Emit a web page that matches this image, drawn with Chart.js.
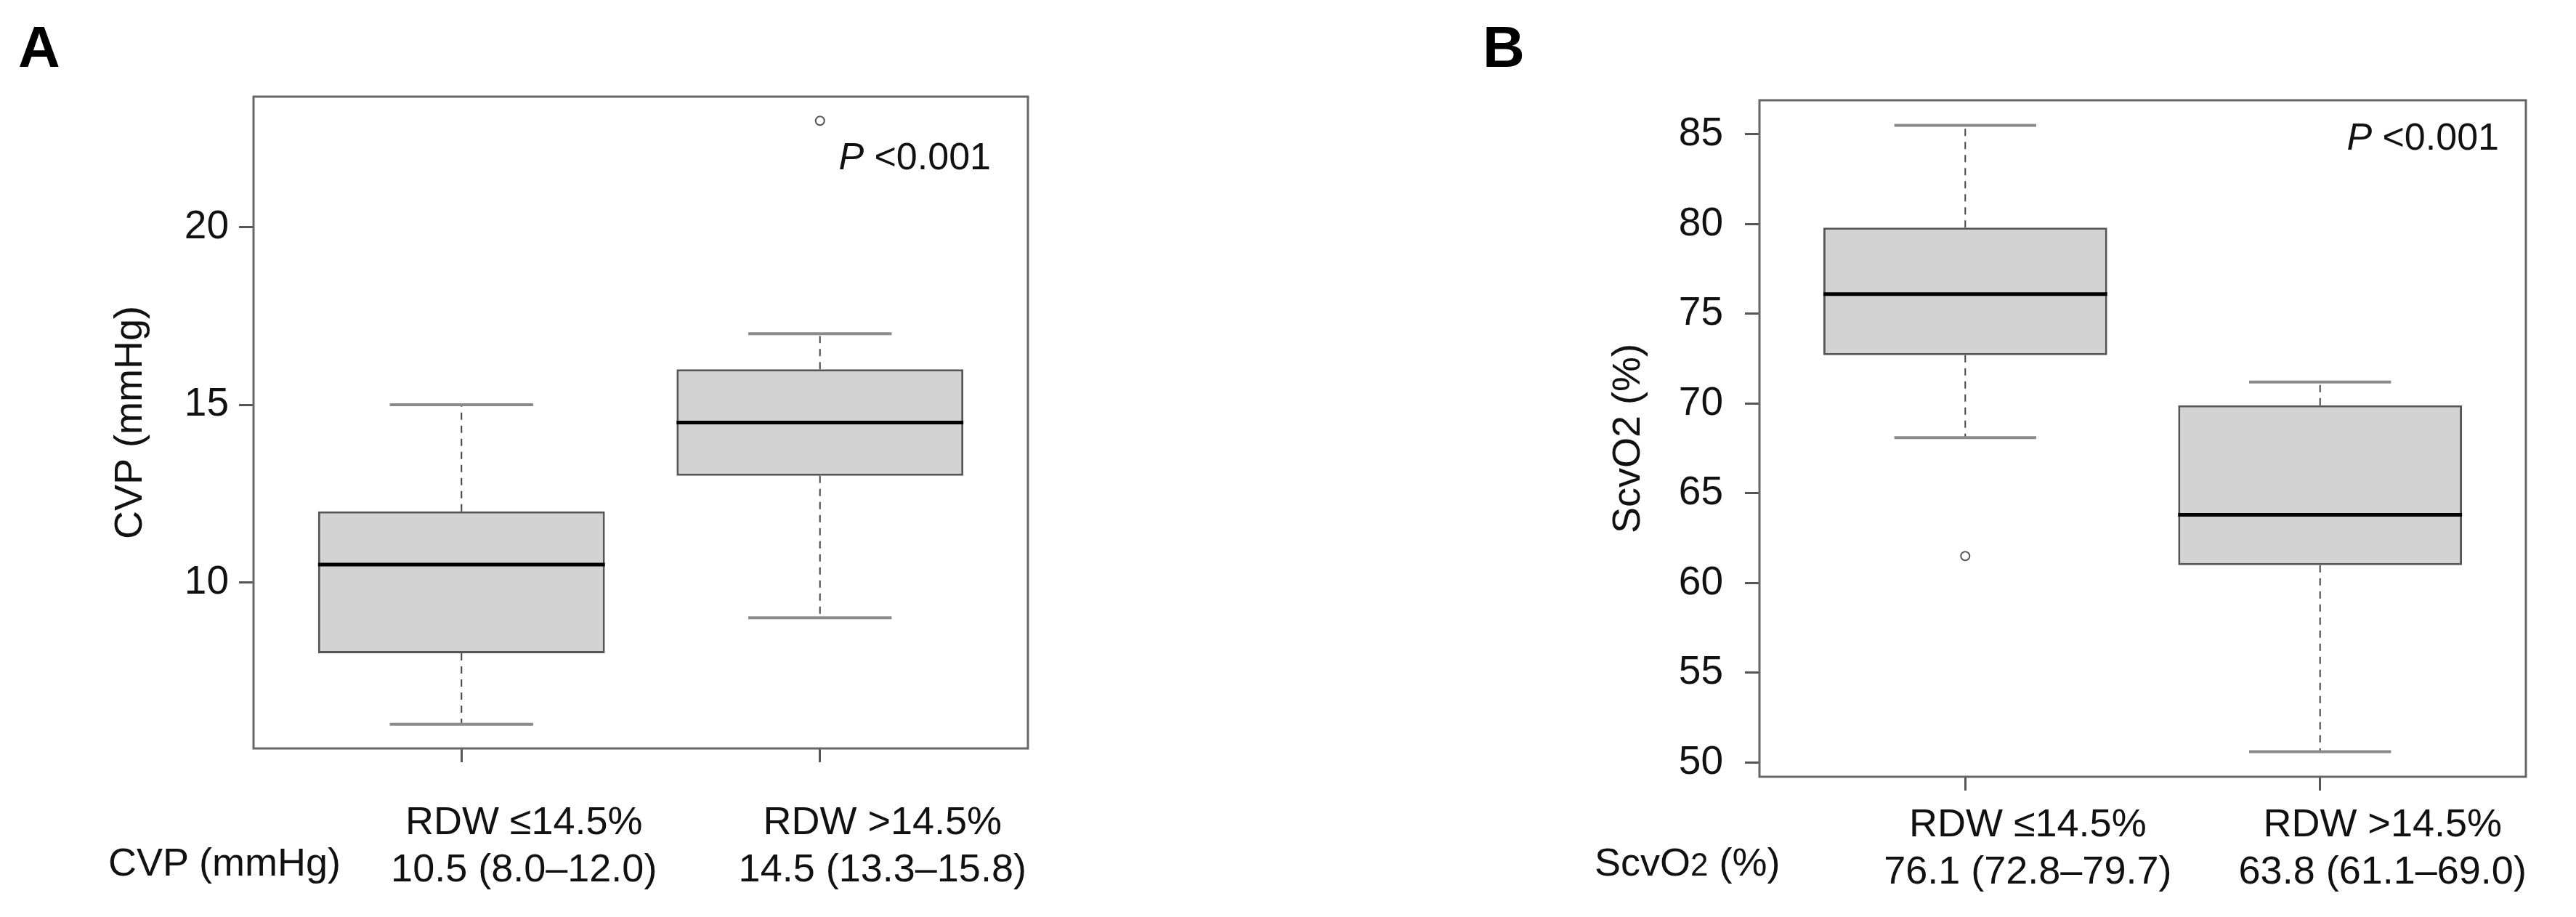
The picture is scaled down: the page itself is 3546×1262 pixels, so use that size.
<!DOCTYPE html>
<html>
<head>
<meta charset="utf-8">
<script src="https://cdn.jsdelivr.net/npm/chart.js@4.4.0/dist/chart.umd.min.js"></script>
<style>
  html, body { margin: 0; padding: 0; background: #fff; }
  body { width: 3546px; height: 1262px; position: relative; overflow: hidden; font-family: "Liberation Sans", Arial, sans-serif; }
  .panel { position: absolute; top: 0; height: 1262px; }
  .tag { position: absolute; font-weight: bold; font-size: 80px; line-height: 80px; color: #000; }
  .rowlab { position: absolute; font-size: 54px; line-height: 54px; color: #111; white-space: nowrap; }
</style>
</head>
<body>
<div class="panel" style="left:0;width:1750px"><canvas id="chartA"></canvas></div>
<div class="panel" style="left:1750px;width:1796px"><canvas id="chartB"></canvas></div>
<div class="tag" style="left:25px;top:25px">A</div>
<div class="tag" style="left:2041px;top:25px">B</div>
<div class="rowlab" style="left:149px;top:1159px">CVP (mmHg)</div>
<div class="rowlab" style="left:2195px;top:1159px">ScvO<span style="font-size:44px">2</span> (%)</div>

<script>
// --- datos ---
const groups = ['RDW ≤14.5%', 'RDW >14.5%'];
const groupPos = [1, 2];
const pLabel = '<0.001';

// A: CVP (mmHg)
const cvpSummary = ['10.5 (8.0–12.0)', '14.5 (13.3–15.8)'];
const cvpMin = [6, 9];
const cvpQ1 = [8, 13];
const cvpMedian = [10.5, 14.5];
const cvpQ3 = [12, 16];
const cvpMax = [15, 17];
const cvpOutliers = [[], [23]];
const cvpTicks = [10, 15, 20];

// B: ScvO2 (%)
const scvSummary = ['76.1 (72.8–79.7)', '63.8 (61.1–69.0)'];
const scvMin = [68.1, 50.6];
const scvQ1 = [72.7, 61.0];
const scvMedian = [76.1, 63.8];
const scvQ3 = [79.8, 69.9];
const scvMax = [85.5, 71.2];
const scvOutliers = [[61.5], []];
const scvTicks = [50, 55, 60, 65, 70, 75, 80, 85];

Chart.defaults.font.family = '"Liberation Sans", Arial, sans-serif';
Chart.defaults.color = '#111';

// bigotes, medianas, marco y valor P
const boxPlugin = {
  id: 'boxWhiskers',
  afterDatasetsDraw(chart) {
    const st = chart.options.plugins.boxWhiskers;
    const ctx = chart.ctx, y = chart.scales.y, a = chart.chartArea;
    ctx.save();
    chart.getDatasetMeta(0).data.forEach((bar, i) => {
      const half = bar.width / 2, cap = half / 2;
      const yMin = y.getPixelForValue(st.min[i]);
      const yQ1 = y.getPixelForValue(st.q1[i]);
      const yMed = y.getPixelForValue(st.median[i]);
      const yQ3 = y.getPixelForValue(st.q3[i]);
      const yMax = y.getPixelForValue(st.max[i]);
      ctx.setLineDash([10, 8]);
      ctx.lineWidth = 2;
      ctx.strokeStyle = '#444';
      ctx.beginPath();
      ctx.moveTo(bar.x, yQ3); ctx.lineTo(bar.x, yMax);
      ctx.moveTo(bar.x, yQ1); ctx.lineTo(bar.x, yMin);
      ctx.stroke();
      ctx.setLineDash([]);
      ctx.lineWidth = 4;
      ctx.strokeStyle = '#8a8a8a';
      ctx.beginPath();
      ctx.moveTo(bar.x - cap, yMax); ctx.lineTo(bar.x + cap, yMax);
      ctx.moveTo(bar.x - cap, yMin); ctx.lineTo(bar.x + cap, yMin);
      ctx.stroke();
      ctx.lineWidth = 5;
      ctx.strokeStyle = '#000';
      ctx.beginPath();
      ctx.moveTo(bar.x - half, yMed); ctx.lineTo(bar.x + half, yMed);
      ctx.stroke();
    });
    ctx.lineWidth = 3;
    ctx.strokeStyle = '#666';
    ctx.strokeRect(a.left, a.top, a.right - a.left, a.bottom - a.top);
    ctx.fillStyle = '#111';
    ctx.textAlign = 'right';
    ctx.textBaseline = 'alphabetic';
    ctx.font = '52px "Liberation Sans", Arial';
    const px = a.right - st.pRight, py = a.top + st.pTop;
    ctx.fillText(pLabel, px, py);
    const w = ctx.measureText(' ' + pLabel).width;
    ctx.font = 'italic 52px "Liberation Sans", Arial';
    ctx.fillText('P', px - w, py);
    ctx.restore();
  }
};

function makeBoxChart(canvasId, cfg) {
  const ctx = document.getElementById(canvasId).getContext('2d');
  const all = [...cfg.min, ...cfg.max, ...cfg.outliers.flat()];
  const range = Math.max(...all) - Math.min(...all);
  const lo = Math.min(...all) - range * 0.04;
  const hi = Math.max(...all) + range * 0.04;
  const outPts = [];
  cfg.outliers.forEach((list, i) => list.forEach(v => outPts.push({ x: groupPos[i], y: v })));
  return new Chart(ctx, {
    type: 'bar',
    data: {
      datasets: [
        {
          type: 'bar',
          data: groupPos.map((x, i) => ({ x, y: [cfg.q1[i], cfg.q3[i]] })),
          backgroundColor: '#d3d3d3',
          borderColor: '#555',
          borderWidth: 3,
          borderSkipped: false,
          categoryPercentage: 0.8,
          barPercentage: 1
        },
        {
          type: 'scatter',
          data: outPts,
          pointRadius: 6,
          pointStyle: 'circle',
          backgroundColor: 'rgba(0,0,0,0)',
          borderColor: '#555',
          borderWidth: 2
        }
      ]
    },
    options: {
      responsive: true,
      maintainAspectRatio: false,
      animation: false,
      layout: { padding: cfg.padding },
      plugins: {
        legend: { display: false },
        tooltip: { enabled: false },
        boxWhiskers: { min: cfg.min, q1: cfg.q1, median: cfg.median, q3: cfg.q3, max: cfg.max, pRight: cfg.pRight, pTop: cfg.pTop }
      },
      scales: {
        x: {
          type: 'linear',
          min: 0.42,
          max: 2.58,
          offset: false,
          afterBuildTicks: s => { s.ticks = groupPos.map(v => ({ value: v })); },
          afterFit: s => { s.height = cfg.xHeight; },
          ticks: {
            callback: (v, i) => [groups[i], cfg.summary[i]],
            font: { size: 54, lineHeight: 1.2 },
            padding: cfg.xPad,
            labelOffset: 86,
            autoSkip: false,
            maxRotation: 0
          },
          grid: { offset: false, drawOnChartArea: false, tickLength: 19, color: '#555', lineWidth: 3 },
          border: { display: false }
        },
        y: {
          min: lo,
          max: hi,
          afterBuildTicks: s => { s.ticks = cfg.ticks.map(v => ({ value: v })); },
          afterFit: s => { s.width = cfg.yWidth; },
          ticks: { font: { size: 55 }, padding: cfg.yPad },
          grid: { drawOnChartArea: false, tickLength: 20, color: '#555', lineWidth: 3 },
          border: { display: false },
          title: { display: true, text: cfg.yTitle, font: { size: 54 }, padding: { top: cfg.titlePad, bottom: 0 } }
        }
      }
    },
    plugins: [boxPlugin]
  });
}

makeBoxChart('chartA', {
  min: cvpMin, q1: cvpQ1, median: cvpMedian, q3: cvpQ3, max: cvpMax, outliers: cvpOutliers,
  ticks: cvpTicks, summary: cvpSummary, yTitle: 'CVP (mmHg)',
  padding: { top: 133, right: 335, bottom: 0, left: 0 },
  yWidth: 349, yPad: 14, titlePad: 148, xHeight: 232, xPad: 52, pRight: 51, pTop: 100
});

makeBoxChart('chartB', {
  min: scvMin, q1: scvQ1, median: scvMedian, q3: scvQ3, max: scvMax, outliers: scvOutliers,
  ticks: scvTicks, summary: scvSummary, yTitle: 'ScvO2 (%)',
  padding: { top: 138, right: 69, bottom: 0, left: 0 },
  yWidth: 672, yPad: 30, titlePad: 460, xHeight: 193, xPad: 16, pRight: 37, pTop: 68
});
</script>
</body>
</html>
